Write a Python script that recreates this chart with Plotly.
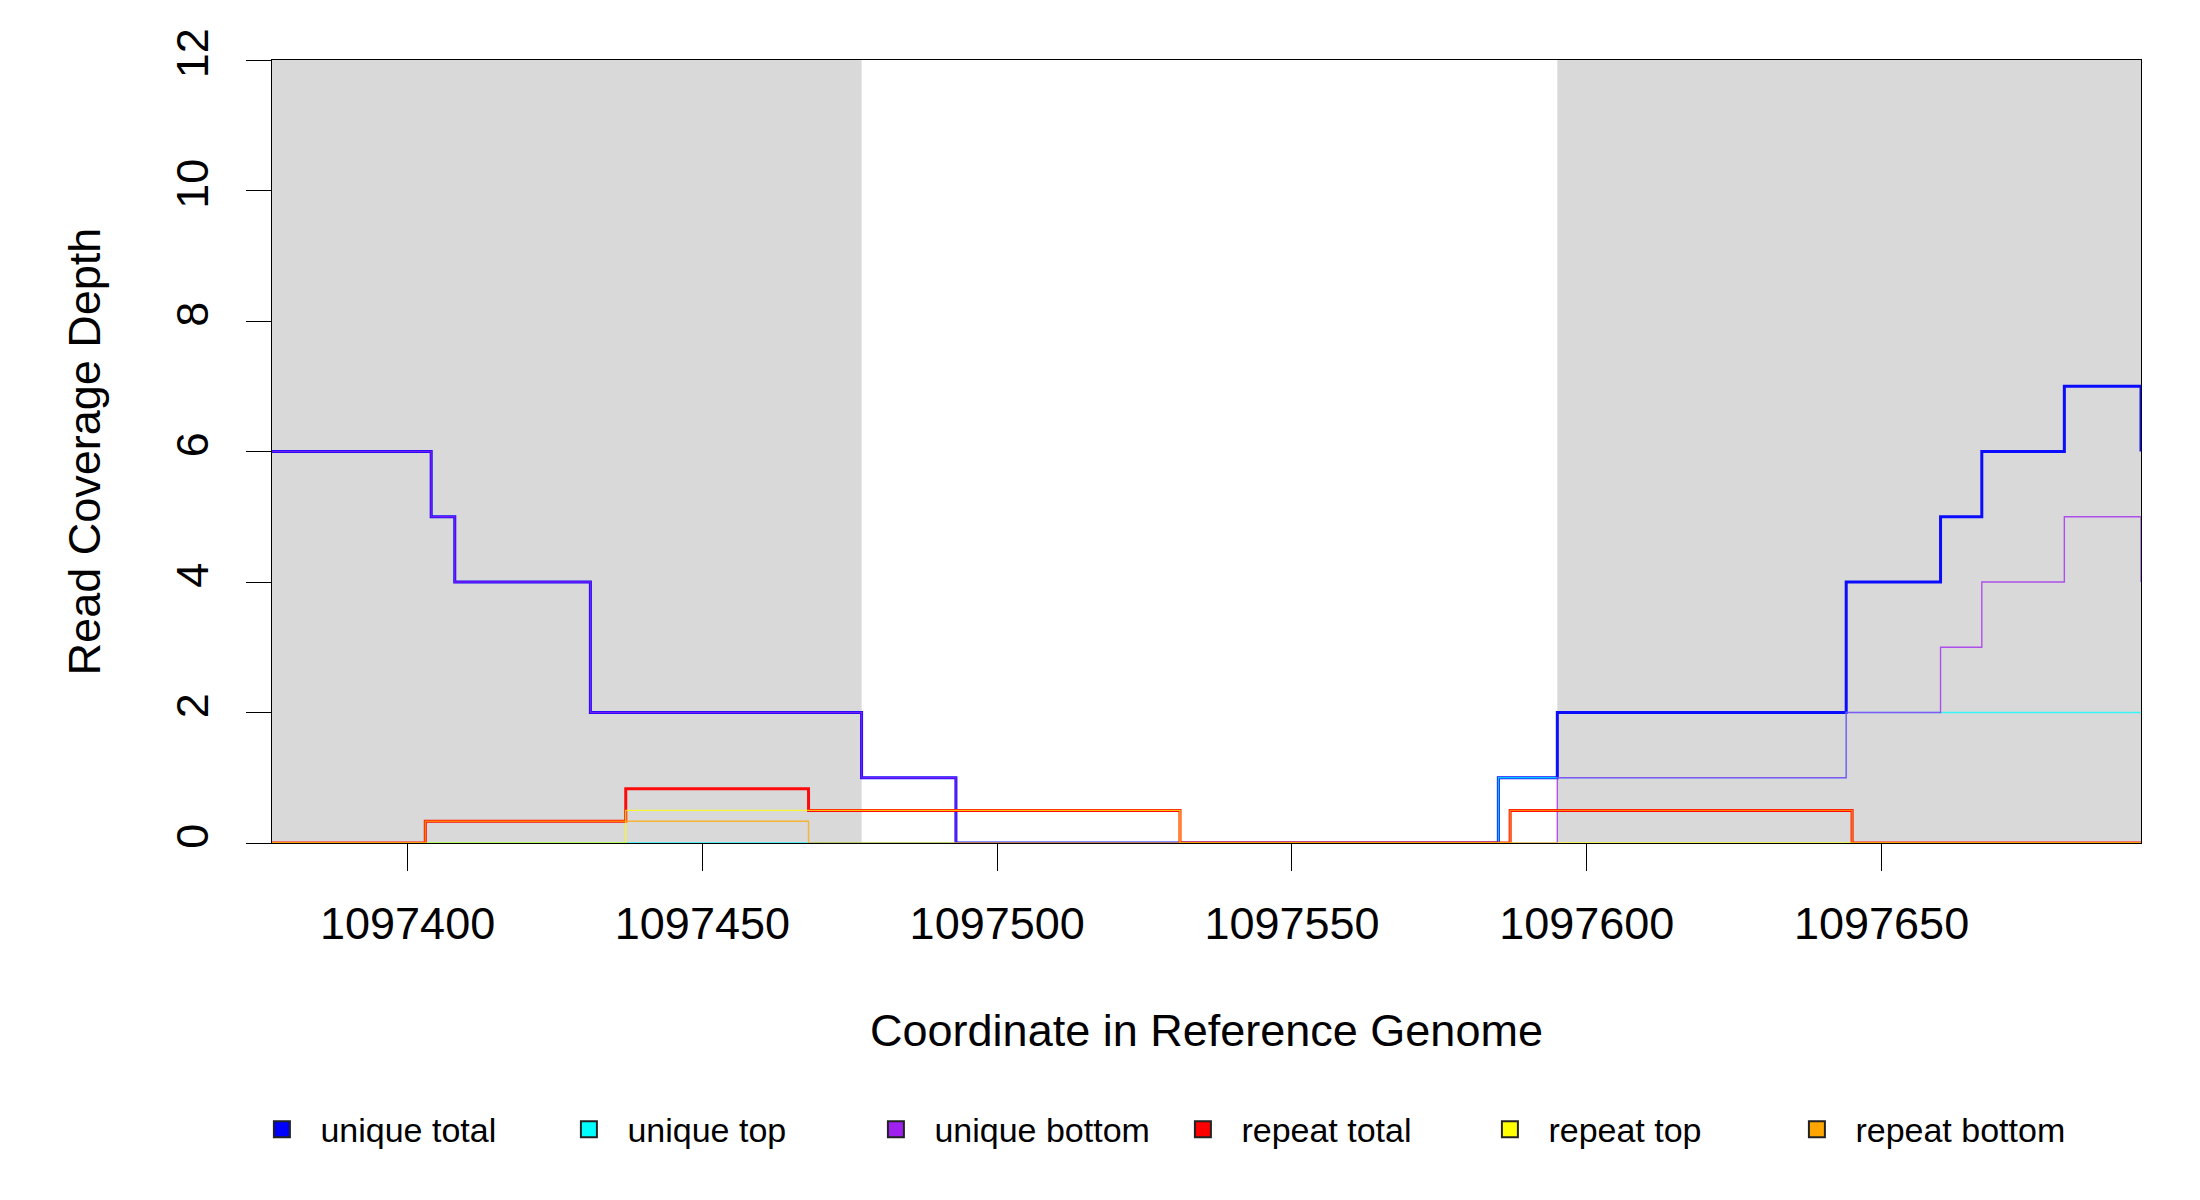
import plotly.graph_objects as go

# ---- data ----
series_names = ["unique total", "unique top", "unique bottom",
                "repeat total", "repeat top", "repeat bottom"]
series_colors = ["#0000FF", "#00FFFF", "#A020F0", "#FF0000", "#FFFF00", "#FFA500"]

unique_total_x = [1097377, 1097404, 1097408, 1097431, 1097477, 1097493, 1097585,
                  1097595, 1097644, 1097660, 1097667, 1097681, 1097694]
unique_total_y = [6, 5, 4, 2, 1, 0, 1, 2, 4, 5, 6, 7, 6]

unique_top_x = [1097377, 1097585, 1097644, 1097694]
unique_top_y = [0, 1, 2, 2]

unique_bottom_x = [1097377, 1097404, 1097408, 1097431, 1097477, 1097493,
                   1097595, 1097644, 1097660, 1097667, 1097681, 1097694]
unique_bottom_y = [6, 5, 4, 2, 1, 0, 1, 2, 3, 4, 5, 4]

repeat_total_x = [1097377, 1097403, 1097437, 1097468, 1097531, 1097587, 1097645, 1097694]
repeat_total_y = [0, 0.333, 0.833, 0.5, 0, 0.5, 0, 0]

repeat_top_x = [1097377, 1097437, 1097531, 1097694]
repeat_top_y = [0, 0.5, 0, 0]

repeat_bottom_x = [1097377, 1097403, 1097468, 1097587, 1097645, 1097694]
repeat_bottom_y = [0, 0.333, 0, 0.5, 0, 0]

flank_starts = [1097377, 1097595]
flank_ends = [1097477, 1097694]

x_tick_vals = [1097400, 1097450, 1097500, 1097550, 1097600, 1097650]
x_tick_text = ["1097400", "1097450", "1097500", "1097550", "1097600", "1097650"]
y_tick_vals = [0, 2, 4, 6, 8, 10, 12]
x_range = [1097377, 1097694]
y_range = [0, 12]

series_x = [unique_total_x, unique_top_x, unique_bottom_x,
            repeat_total_x, repeat_top_x, repeat_bottom_x]
series_y = [unique_total_y, unique_top_y, unique_bottom_y,
            repeat_total_y, repeat_top_y, repeat_bottom_y]
series_width = [3.0, 1.4, 1.4, 3.0, 1.4, 1.4]
series_alpha = [0.95, 0.75, 0.75, 0.95, 0.75, 0.75]


def rgba(hexc, a):
    h = hexc.lstrip("#")
    return "rgba(%d,%d,%d,%g)" % (int(h[0:2], 16), int(h[2:4], 16), int(h[4:6], 16), a)


FONT = "Liberation Sans, Arial, sans-serif"

fig = go.Figure()

for xs, ys, name, col, w, a in zip(series_x, series_y, series_names, series_colors,
                                   series_width, series_alpha):
    fig.add_trace(go.Scatter(
        x=xs, y=ys, mode="lines", line=dict(shape="hv", color=rgba(col, a), width=w),
        name=name, showlegend=False, hoverinfo="x+y+name"))

# legend entries (square swatches)
for name, col in zip(series_names, series_colors):
    fig.add_trace(go.Scatter(
        x=[None], y=[None], mode="markers", name=name,
        marker=dict(symbol="square", size=16, color=col, line=dict(color="#222222", width=2)),
        showlegend=True))

shapes = []
for s, e in zip(flank_starts, flank_ends):
    shapes.append(dict(type="rect", xref="x", yref="paper", x0=s, x1=e, y0=0, y1=1,
                       fillcolor="#D9D9D9", line=dict(width=0), layer="below"))

fig.update_layout(
    width=2200, height=1200,
    margin=dict(l=264, r=67, t=52, b=365, pad=0),
    paper_bgcolor="white", plot_bgcolor="white",
    font=dict(family=FONT, color="black", size=45),
    shapes=shapes,
    showlegend=True,
    legend=dict(orientation="h", x=-0.0153, y=-0.366, xanchor="left", yanchor="middle",
                font=dict(size=34, family=FONT), entrywidth=225, entrywidthmode="pixels",
                itemwidth=67, bgcolor="rgba(0,0,0,0)", traceorder="normal"),
    xaxis=dict(range=x_range, tickmode="array", tickvals=x_tick_vals, ticktext=x_tick_text,
               showgrid=False, zeroline=False, showline=True, linecolor="black", linewidth=1,
               mirror=True, ticks="outside", ticklen=27, tickwidth=1.3, tickcolor="black",
               tickfont=dict(size=45, family=FONT), ticklabelstandoff=14,
               title=dict(text="Coordinate in Reference Genome", font=dict(size=45, family=FONT),
                          standoff=66)),
    yaxis=dict(range=y_range, tickmode="array", tickvals=y_tick_vals,
               showgrid=False, zeroline=False, showline=True, linecolor="black", linewidth=1,
               mirror=True, ticks="outside", ticklen=25, tickwidth=1.3, tickcolor="black",
               tickangle=-90, tickfont=dict(size=45, family=FONT), ticklabelstandoff=20,
               title=dict(text="Read Coverage Depth", font=dict(size=45, family=FONT),
                          standoff=52)),
)

fig.write_html("out.html")
